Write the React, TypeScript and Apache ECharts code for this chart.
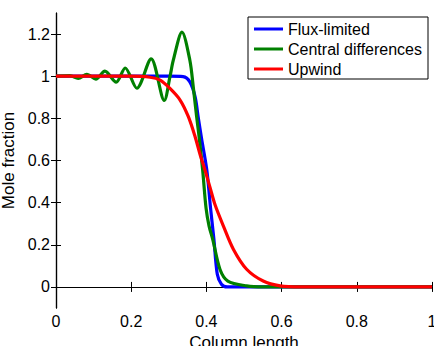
import React, { useEffect, useRef } from "react";
import * as echarts from "echarts";

const xTicks = [0, 0.2, 0.4, 0.6, 0.8, 1];
const yTicks = [0, 0.2, 0.4, 0.6, 0.8, 1, 1.2];

const fluxX = [0, 0.3, 0.338, 0.356, 0.37, 0.378, 0.387, 0.401, 0.411, 0.42, 0.429, 0.44, 0.455, 1];
const fluxY = [1, 1, 0.998, 0.973, 0.902, 0.808, 0.706, 0.556, 0.375, 0.225, 0.06, 0.013, 0, 0];

const centralX = [0, 0.037, 0.059, 0.082, 0.106, 0.13, 0.16, 0.184, 0.215, 0.253, 0.288, 0.303, 0.312, 0.335, 0.356, 0.365, 0.374, 0.381, 0.39, 0.399, 0.407, 0.417, 0.436, 0.457, 0.507, 0.55, 1];
const centralY = [1, 1.003, 0.99, 1.009, 0.986, 1.024, 0.972, 1.039, 0.943, 1.082, 0.885, 0.997, 1.076, 1.209, 1.076, 0.95, 0.808, 0.706, 0.556, 0.375, 0.29, 0.225, 0.084, 0.028, 0.005, 0, 0];

const upwindX = [0, 0.2, 0.25, 0.277, 0.303, 0.33, 0.352, 0.37, 0.383, 0.396, 0.41, 0.423, 0.445, 0.472, 0.507, 0.551, 0.596, 0.65, 1];
const upwindY = [1, 1, 0.995, 0.981, 0.942, 0.887, 0.808, 0.713, 0.63, 0.556, 0.47, 0.39, 0.29, 0.178, 0.084, 0.028, 0.005, 0, 0];

const seriesNames = ["Flux-limited", "Central differences", "Upwind"];
const seriesColors = ["#0000ff", "#008000", "#ff0000"];

const zip = (xs: number[], ys: number[]) => xs.map((x, i) => [x, ys[i]]);

const FONT = "'Liberation Sans', Arial, Helvetica, sans-serif";

export default function App() {
  const ref = useRef<HTMLDivElement>(null);
  useEffect(() => {
    document.body.style.margin = "0";
    const chart = echarts.init(ref.current!, null, { renderer: "svg" });
    const axisLine = { show: true, lineStyle: { color: "#000", width: 1.2 } };
    const tick = { show: true, inside: true, length: 5, lineStyle: { color: "#000", width: 1 } };
    const dataSets = [zip(fluxX, fluxY), zip(centralX, centralY), zip(upwindX, upwindY)];
    chart.setOption({
      animation: false,
      backgroundColor: "#fff",
      textStyle: { fontFamily: FONT },
      grid: { left: 56, right: 2, top: 13, bottom: 38, outerBoundsMode: "none" },
      legend: {
        data: seriesNames,
        orient: "vertical",
        right: 6,
        top: 17,
        icon: "rect",
        backgroundColor: "#fff",
        borderColor: "#000",
        borderWidth: 1,
        borderRadius: 0,
        padding: [4, 6, 2, 6],
        itemWidth: 29,
        itemHeight: 3,
        itemGap: 4,
        textStyle: { fontFamily: FONT, fontSize: 16, color: "#000", lineHeight: 16 },
      },
      xAxis: [
        {
          type: "value",
          min: 0,
          max: 1,
          interval: 0.2,
          name: "Column length",
          nameLocation: "middle",
          nameGap: 21,
          nameTextStyle: { fontFamily: FONT, fontSize: 17, color: "#000" },
          axisLine,
          axisTick: tick,
          splitLine: { show: false },
          axisLabel: { fontFamily: FONT, fontSize: 16, color: "#000", margin: 5, customValues: xTicks },
        },
        {
          type: "value",
          position: "top",
          min: 0,
          max: 1,
          interval: 0.2,
          axisLine,
          axisTick: tick,
          splitLine: { show: false },
          axisLabel: { show: false },
        },
      ],
      yAxis: [
        {
          type: "value",
          min: -0.1,
          max: 1.3,
          name: "Mole fraction",
          nameLocation: "middle",
          nameGap: 38,
          nameTextStyle: { fontFamily: FONT, fontSize: 17, color: "#000" },
          axisLine,
          axisTick: { ...tick, customValues: yTicks },
          splitLine: { show: false },
          axisLabel: { fontFamily: FONT, fontSize: 16, color: "#000", margin: 6, customValues: yTicks },
        },
        {
          type: "value",
          position: "right",
          min: -0.1,
          max: 1.3,
          axisLine,
          axisTick: { ...tick, customValues: yTicks },
          splitLine: { show: false },
          axisLabel: { show: false, customValues: yTicks },
        },
      ],
      series: seriesNames.map((name, i) => ({
        name,
        type: "line",
        data: dataSets[i],
        showSymbol: false,
        symbol: "none",
        smooth: 0.3,
        color: seriesColors[i],
        lineStyle: { color: seriesColors[i], width: 3.2 },
        z: 2 + i,
      })),
    });
    return () => chart.dispose();
  }, []);
  return <div ref={ref} style={{ width: 434, height: 346, position: "absolute", left: 0, top: 0 }} />;
}
